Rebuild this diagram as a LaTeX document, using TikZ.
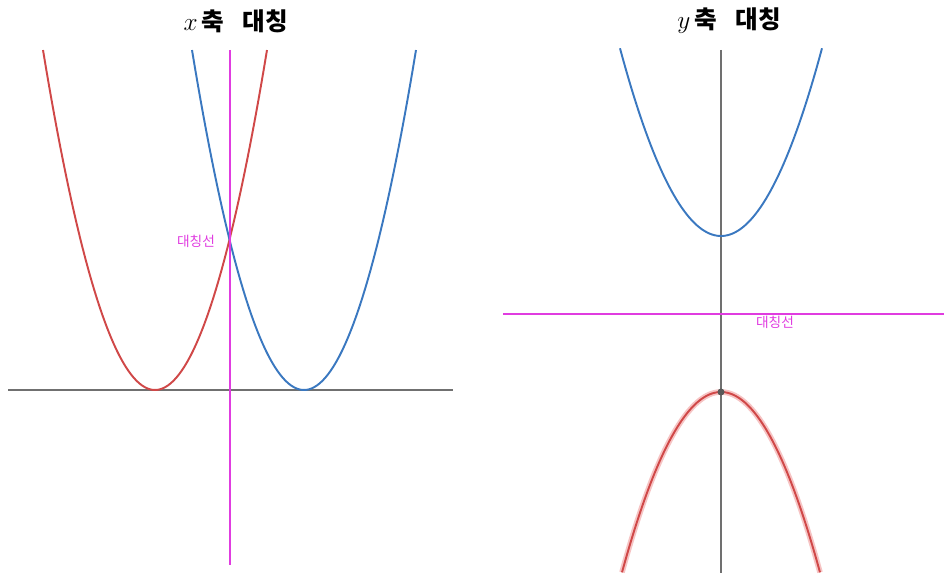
\documentclass[tikz,border=0pt]{standalone}
\usepackage{fontspec}
\setmainfont{Noto Sans CJK KR}
\usepackage{xcolor}
\definecolor{axisgrey}{HTML}{707070}
\definecolor{symmag}{HTML}{E03CE0}
\definecolor{parred}{HTML}{D04848}
\definecolor{parblue}{HTML}{3A78C0}
\definecolor{halopink}{HTML}{F6C4C4}

\begin{document}
\begin{tikzpicture}[
  x=0.02cm, y=-0.02cm,
  axis/.style={draw=axisgrey, line width=0.7pt},
  mirror/.style={draw=symmag, line width=1.2pt},
  redcurve/.style={draw=parred, line width=1.1pt},
  bluecurve/.style={draw=parblue, line width=1.1pt},
  lbl/.style={text=symmag, font=\fontsize{7.8}{9}\selectfont, inner sep=1pt},
  ttl/.style={font=\fontsize{14}{16}\selectfont\bfseries, inner sep=0pt}
]
\useasboundingbox (0,0) rectangle (944,574);

% left panel: x axis
\node[ttl] (ttlx) at (236,21) {$x$\,축\hspace{0.75em}대칭};
\draw[axis] (8,390) -- (453,390);
\draw[redcurve] plot[domain=43:267, samples=80] (\x, {390-0.0271*(\x-155)*(\x-155)});
\draw[bluecurve] plot[domain=192:416, samples=80] (\x, {390-0.0271*(\x-304)*(\x-304)});
\draw[mirror] (230,50) -- (230,565);
\node[lbl, anchor=east] (lblx) at (217,241) {대칭선};

% right panel: y axis
\node[ttl] (ttly) at (729,21) {$y$\,축\hspace{0.75em}대칭};
\draw[axis] (721,50) -- (721,573);
\draw[bluecurve] plot[domain=620:822, samples=80] (\x, {236-0.0184*(\x-721)*(\x-721)});
\draw[draw=halopink, line width=3.2pt] plot[domain=622:820, samples=80] (\x, {392+0.0184*(\x-721)*(\x-721)});
\draw[redcurve] plot[domain=622:820, samples=80] (\x, {392+0.0184*(\x-721)*(\x-721)});
\draw[mirror] (503,314) -- (944,314);
\node[lbl] (lbly) at (775,322) {대칭선};
\fill[axisgrey!80!black] (721,392) circle (3.5);
\end{tikzpicture}
\end{document}
